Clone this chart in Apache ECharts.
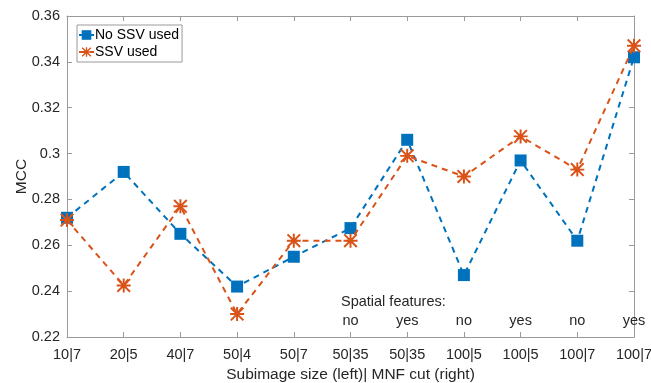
<!DOCTYPE html>
<html>
<head>
<meta charset="utf-8">
<script src="https://cdn.jsdelivr.net/npm/echarts@6/dist/echarts.min.js"></script>
<style>
  html, body { margin: 0; padding: 0; background: #fff; }
  #chart { width: 651px; height: 383px; }
</style>
</head>
<body>
<div id="chart"></div>
<script>
// categories: subimage size | MNF cut
const categories = ['10|7', '20|5', '40|7', '50|4', '50|7', '50|35', '50|35', '100|5', '100|5', '100|7', '100|7'];
// spatial features row written inside the axes
const spatialLabels = ['', '', '', '', '', 'no', 'yes', 'no', 'yes', 'no', 'yes'];
const noSsv = [0.272, 0.292, 0.265, 0.242, 0.255, 0.2675, 0.306, 0.247, 0.297, 0.262, 0.342];
const ssv = [0.271, 0.2425, 0.277, 0.230, 0.262, 0.262, 0.299, 0.290, 0.3075, 0.293, 0.347];
const yTicks = { min: 0.22, max: 0.36, step: 0.02 };

const font = 'Liberation Sans, Arial, sans-serif';
const textCol = '#262626';
const axisCol = '#9a9a9a';
// 8-armed star like the matlab '*' marker
const asterisk = 'path://M0 8.6H20V11.4H0Z M8.6 0H11.4V20H8.6Z M2 0L20 18L18 20L0 2Z M18 0L20 2L2 20L0 18Z';

const chart = echarts.init(document.getElementById('chart'));

const option = {
  backgroundColor: '#fff',
  animation: false,
  textStyle: { fontFamily: font },
  grid: { left: 67, right: 17, top: 16, bottom: 46, containLabel: false, outerBoundsMode: 'none' },
  legend: {
    orient: 'vertical',
    left: 77,
    top: 25,
    backgroundColor: '#fff',
    borderColor: axisCol,
    borderWidth: 1,
    padding: [3, 3, 3, 1],
    itemGap: 3,
    itemWidth: 15,
    itemHeight: 12,
    textStyle: { fontSize: 14, color: '#000', fontFamily: font, padding: [0, 0, 0, -4] },
    data: ['No SSV used', 'SSV used']
  },
  graphic: [{
    type: 'text',
    left: 341,
    top: 294,
    style: { text: 'Spatial features:', fontSize: 14.5, fill: textCol, fontFamily: font }
  }],
  xAxis: [{
    type: 'category',
    data: categories,
    boundaryGap: false,
    name: 'Subimage size (left)| MNF cut (right)',
    nameLocation: 'middle',
    nameGap: 30,
    nameTextStyle: { fontSize: 15.5, color: textCol, fontFamily: font },
    axisLine: { lineStyle: { color: axisCol, width: 1 } },
    axisTick: { inside: true, length: 5, lineStyle: { color: axisCol } },
    axisLabel: { interval: 0, hideOverlap: false, fontSize: 14.5, color: textCol, margin: 10 },
    splitLine: { show: false }
  }, {
    type: 'category',
    data: categories,
    boundaryGap: false,
    position: 'top',
    axisLine: { lineStyle: { color: axisCol, width: 1 } },
    axisTick: { inside: true, length: 5, lineStyle: { color: axisCol } },
    axisLabel: { show: false }
  }, {
    type: 'category',
    data: spatialLabels,
    boundaryGap: false,
    position: 'bottom',
    axisLine: { show: false },
    axisTick: { show: false },
    axisLabel: {
      interval: 0, hideOverlap: false, fontSize: 14.5, color: textCol,
      margin: -16, verticalAlign: 'middle'
    }
  }],
  yAxis: [{
    type: 'value',
    min: yTicks.min,
    max: yTicks.max,
    interval: yTicks.step,
    name: 'MCC',
    nameLocation: 'middle',
    nameGap: 37,
    nameMoveOverlap: false,
    nameTextStyle: { fontSize: 15.5, color: textCol, fontFamily: font },
    axisLine: { show: true, lineStyle: { color: axisCol, width: 1 } },
    axisTick: { show: true, inside: true, length: 5, lineStyle: { color: axisCol } },
    axisLabel: { fontSize: 14.5, color: textCol, margin: 7, formatter: v => String(+v.toFixed(2)) },
    splitLine: { show: false }
  }, {
    type: 'value',
    min: yTicks.min,
    max: yTicks.max,
    interval: yTicks.step,
    position: 'right',
    axisLine: { show: true, lineStyle: { color: axisCol, width: 1 } },
    axisTick: { show: true, inside: true, length: 5, lineStyle: { color: axisCol } },
    axisLabel: { show: false },
    splitLine: { show: false }
  }],
  series: [{
    name: 'No SSV used',
    type: 'line',
    data: noSsv,
    symbol: 'rect',
    symbolSize: 12,
    itemStyle: { color: '#0072BD' },
    lineStyle: { color: '#0072BD', width: 2, type: [6, 5] },
    z: 3
  }, {
    name: 'SSV used',
    type: 'line',
    data: ssv,
    symbol: asterisk,
    symbolSize: 14,
    symbolKeepAspect: true,
    itemStyle: { color: '#D95319' },
    lineStyle: { color: '#D95319', width: 2, type: [6, 5] },
    z: 4
  }]
};

chart.setOption(option);
</script>
</body>
</html>
